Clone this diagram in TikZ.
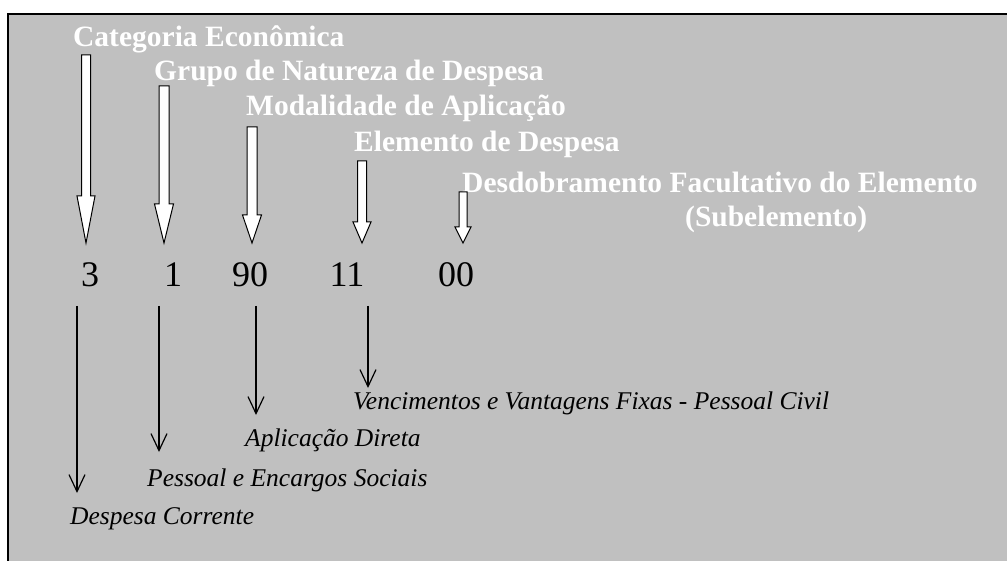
\documentclass[tikz,border=0pt]{standalone}
\usepackage{fontspec}
\setmainfont{Liberation Serif}
\usetikzlibrary{arrows.meta,calc}
\definecolor{panelgray}{HTML}{C0C0C0}

\begin{document}
\begin{tikzpicture}[x=1pt,y=-1pt,
                    title node/.style={anchor=base west,inner sep=0pt,text=white,font=\fontsize{29.5}{33}\selectfont\bfseries},
                    code node/.style={anchor=base,inner sep=0pt,font=\fontsize{36}{40}\selectfont},
                    label node/.style={anchor=base west,inner sep=0pt,font=\fontsize{25.5}{29}\selectfont\itshape},
                    block arrow/.style={draw=black,fill=white,line width=1pt,line join=miter},
                    thin arrow/.style={draw=black,line width=1.2pt,-{Straight Barb[length=17pt,width=16pt,line width=1.2pt]}}]

  \useasboundingbox (0,0) rectangle (1007,561);
  \fill[panelgray] (8,14) rectangle (1007,561);
  \draw[line width=1.5pt] (8,561) -- (8,14) -- (1007,14);

  % titles
  \node[title node] (cat) at (73,47) {Categoria Econômica};
  \node[title node] (grp) at (154,81) {Grupo de Natureza de Despesa};
  \node[title node] (mod) at (246,116) {Modalidade de Aplicação};
  \node[title node] (ele) at (354,152) {Elemento de Despesa};
  \node[title node] (des) at (462,193) {Desdobramento Facultativo do Elemento};
  \node[title node] (sub) at (685,227) {(Subelemento)};

  % code digits
  \node[code node] (c1) at (90,287) {3};
  \node[code node] (c2) at (173,287) {1};
  \node[code node] (c3) at (250,287) {90};
  \node[code node] (c4) at (347,287) {11};
  \node[code node] (c5) at (456,287) {00};

  % white arrows: x / top / head start / shaft half / head half
  \foreach \x/\t/\h/\s/\w [count=\i] in {86/55/196/4.5/9, 164/86/204/5/9.5, 252/127/215/5/9.5,
                                          362/161/222/4.5/9, 463/192/227/4/8}{
    \coordinate (top\i) at (\x,\t);
    \coordinate (tip\i) at (\x,243);
    \path[block arrow] (top\i) ++(-\s,0) -- ++(2*\s,0) -- (\x+\s,\h) -- (\x+\w,\h)
      -- (tip\i) -- (\x-\w,\h) -- (\x-\s,\h) -- cycle;
  }

  % meanings
  \node[label node] (l1) at (70,524) {Despesa Corrente};
  \node[label node] (l2) at (147,486) {Pessoal e Encargos Sociais};
  \node[label node] (l3) at (245,446) {Aplicação Direta};
  \node[label node] (l4) at (353,409) {Vencimentos e Vantagens Fixas - Pessoal Civil};

  \coordinate (d1) at (77,306);  \coordinate (e1) at (77,493);
  \coordinate (d2) at (159,306); \coordinate (e2) at (159,452);
  \coordinate (d3) at (256,306); \coordinate (e3) at (256,415);
  \coordinate (d4) at (368,306); \coordinate (e4) at (368,388);

  \draw[thin arrow] (d1) -- (e1);
  \draw[thin arrow] (d2) -- (e2);
  \draw[thin arrow] (d3) -- (e3);
  \draw[thin arrow] (d4) -- (e4);

\end{tikzpicture}
\end{document}
